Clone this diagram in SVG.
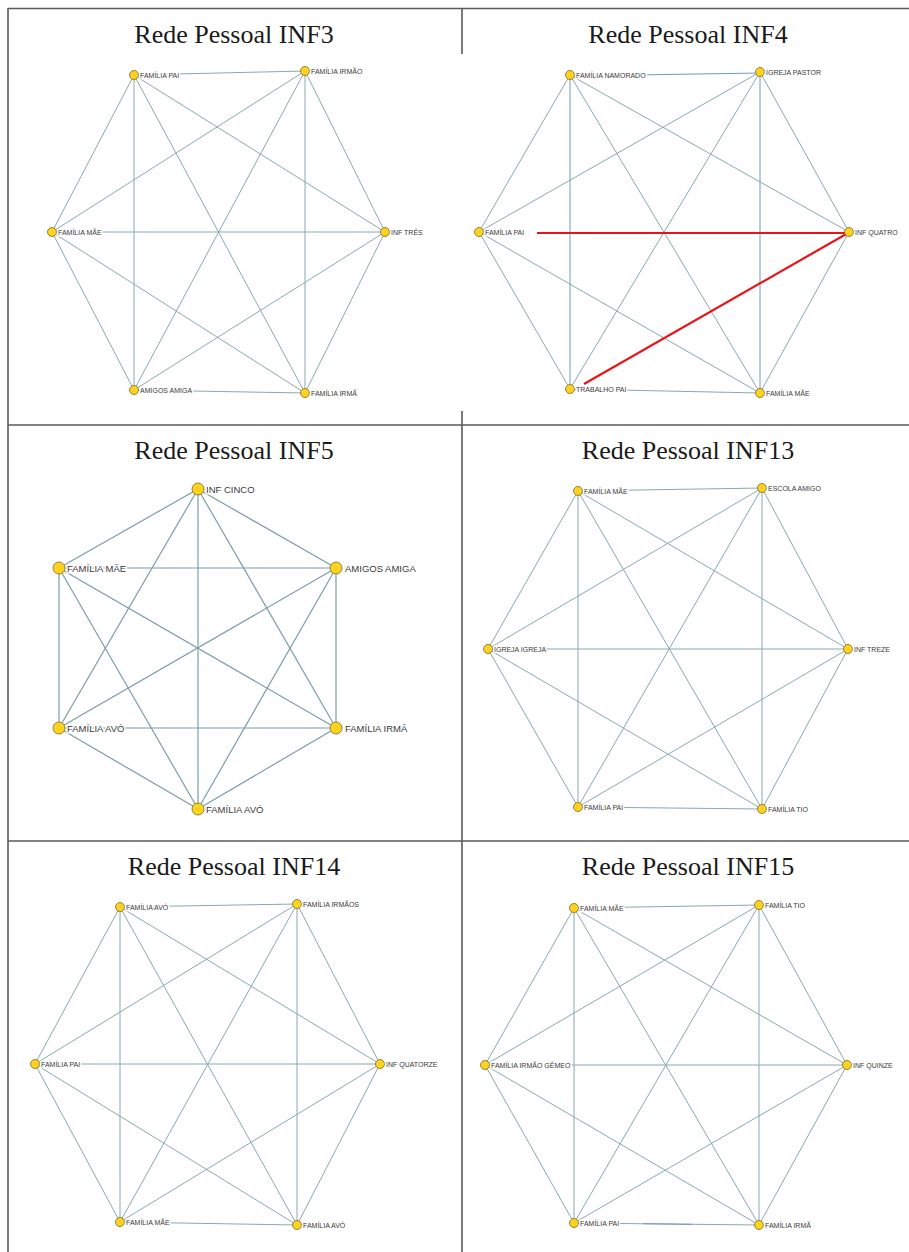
<svg xmlns="http://www.w3.org/2000/svg" width="909" height="1252" viewBox="0 0 909 1252">
<style>
.bg{fill:#ffffff}
.grid{stroke:#5a5a5a;stroke-width:1.6;fill:none}
.title{font-family:"Liberation Serif","Times New Roman",serif;font-size:26px;fill:#1a1a1a;text-anchor:middle}
.e{stroke:#8aa8ae;stroke-width:1}
.e5{stroke:#7c9ea6;stroke-width:1.2}
.eb{stroke:#6f9cc2;stroke-width:1}
.er{stroke:#e8141a;stroke-width:2.2}
.n{fill:#ffd21f;stroke:#7a6a20;stroke-width:0.8}
.lbl{font-family:"Liberation Sans",Arial,sans-serif;font-size:7px;fill:#3a3a3a;paint-order:stroke;stroke:#ffffff;stroke-width:3;stroke-linejoin:round}
.lbl5{font-family:"Liberation Sans",Arial,sans-serif;font-size:9.5px;fill:#3a3a3a;paint-order:stroke;stroke:#ffffff;stroke-width:3;stroke-linejoin:round}
</style>
<rect class="bg" x="0" y="0" width="909" height="1252"/>

<g id="table-grid" class="grid">
<line x1="8" y1="8.5" x2="909" y2="8.5"/>
<line x1="8" y1="8" x2="8" y2="1252"/>
<line x1="8" y1="425" x2="909" y2="425"/>
<line x1="8" y1="841" x2="909" y2="841"/>
<line x1="462" y1="8" x2="462" y2="54"/>
<line x1="462" y1="411" x2="462" y2="1252"/>
</g>

<!-- Panel INF3 -->
<g id="panel-inf3">
<text class="title" x="234" y="43">Rede Pessoal INF3</text>
<g id="inf3-connectors">
<line class="e" x1="134" y1="75" x2="305" y2="71"/>
<line class="e" x1="134" y1="75" x2="385" y2="232"/>
<line class="e" x1="134" y1="75" x2="305" y2="393"/>
<line class="e" x1="134" y1="75" x2="134" y2="390"/>
<line class="e" x1="134" y1="75" x2="52" y2="232"/>
<line class="e" x1="305" y1="71" x2="385" y2="232"/>
<line class="e" x1="305" y1="71" x2="305" y2="393"/>
<line class="e" x1="305" y1="71" x2="134" y2="390"/>
<line class="e" x1="305" y1="71" x2="52" y2="232"/>
<line class="e" x1="385" y1="232" x2="305" y2="393"/>
<line class="e" x1="385" y1="232" x2="134" y2="390"/>
<line class="e" x1="385" y1="232" x2="52" y2="232"/>
<line class="e" x1="305" y1="393" x2="134" y2="390"/>
<line class="e" x1="305" y1="393" x2="52" y2="232"/>
<line class="e" x1="134" y1="390" x2="52" y2="232"/>
</g>
<g id="inf3-familia-pai"><circle class="n" cx="134" cy="75" r="4.5"/><text class="lbl" x="140" y="77.5">FAMÍLIA PAI</text></g>
<g id="inf3-familia-irmao"><circle class="n" cx="305" cy="71" r="4.5"/><text class="lbl" x="311" y="73.5">FAMÍLIA IRMÃO</text></g>
<g id="inf3-inf-tres"><circle class="n" cx="385" cy="232" r="4.5"/><text class="lbl" x="391" y="234.5">INF TRÊS</text></g>
<g id="inf3-familia-irma"><circle class="n" cx="305" cy="393" r="4.5"/><text class="lbl" x="311" y="395.5">FAMÍLIA IRMÃ</text></g>
<g id="inf3-amigos-amiga"><circle class="n" cx="134" cy="390" r="4.5"/><text class="lbl" x="140" y="392.5">AMIGOS AMIGA</text></g>
<g id="inf3-familia-mae"><circle class="n" cx="52" cy="232" r="4.5"/><text class="lbl" x="58" y="234.5">FAMÍLIA MÃE</text></g>
</g>

<!-- Panel INF4 -->
<g id="panel-inf4">
<text class="title" x="688" y="43">Rede Pessoal INF4</text>
<g id="inf4-connectors">
<line class="eb" x1="570" y1="76" x2="760" y2="73"/>
<line class="e" x1="570" y1="75" x2="849" y2="232"/>
<line class="e" x1="570" y1="75" x2="760" y2="393"/>
<line class="eb" x1="570" y1="75" x2="570" y2="389"/>
<line class="e" x1="570" y1="75" x2="479" y2="232"/>
<line class="e" x1="760" y1="72" x2="849" y2="232"/>
<line class="eb" x1="760" y1="72" x2="760" y2="393"/>
<line class="e" x1="760" y1="72" x2="570" y2="389"/>
<line class="e" x1="760" y1="72" x2="479" y2="232"/>
<line class="e" x1="849" y1="232" x2="760" y2="393"/>
<line class="e" x1="760" y1="393" x2="570" y2="389"/>
<line class="e" x1="760" y1="393" x2="479" y2="232"/>
<line class="e" x1="570" y1="389" x2="479" y2="232"/>
<line class="er" x1="537" y1="233" x2="849" y2="233"/>
<line class="er" x1="848" y1="233" x2="584" y2="384"/>
</g>
<g id="inf4-familia-namorado"><circle class="n" cx="570" cy="75" r="4.5"/><text class="lbl" x="576" y="77.5">FAMÍLIA NAMORADO</text></g>
<g id="inf4-igreja-pastor"><circle class="n" cx="760" cy="72" r="4.5"/><text class="lbl" x="766" y="74.5">IGREJA PASTOR</text></g>
<g id="inf4-inf-quatro"><circle class="n" cx="849" cy="232" r="4.5"/><text class="lbl" x="855" y="234.5">INF QUATRO</text></g>
<g id="inf4-familia-mae"><circle class="n" cx="760" cy="393" r="4.5"/><text class="lbl" x="766" y="395.5">FAMÍLIA MÃE</text></g>
<g id="inf4-trabalho-pai"><circle class="n" cx="570" cy="389" r="4.5"/><text class="lbl" x="576" y="391.5">TRABALHO PAI</text></g>
<g id="inf4-familia-pai"><circle class="n" cx="479" cy="232" r="4.5"/><text class="lbl" x="485" y="234.5">FAMÍLIA PAI</text></g>
</g>

<!-- Panel INF5 -->
<g id="panel-inf5">
<text class="title" x="234" y="459">Rede Pessoal INF5</text>
<g id="inf5-connectors">
<line class="e5" x1="198" y1="489" x2="336" y2="568"/>
<line class="e5" x1="198" y1="489" x2="336" y2="728"/>
<line class="e5" x1="198" y1="489" x2="198" y2="809"/>
<line class="e5" x1="198" y1="489" x2="59" y2="728"/>
<line class="e5" x1="198" y1="489" x2="59" y2="568"/>
<line class="e5" x1="336" y1="568" x2="336" y2="728"/>
<line class="e5" x1="336" y1="568" x2="198" y2="809"/>
<line class="e5" x1="336" y1="568" x2="59" y2="728"/>
<line class="e5" x1="336" y1="568" x2="59" y2="568"/>
<line class="e5" x1="336" y1="728" x2="198" y2="809"/>
<line class="e5" x1="336" y1="728" x2="59" y2="728"/>
<line class="e5" x1="336" y1="728" x2="59" y2="568"/>
<line class="e5" x1="198" y1="809" x2="59" y2="728"/>
<line class="e5" x1="198" y1="809" x2="59" y2="568"/>
<line class="e5" x1="59" y1="728" x2="59" y2="568"/>
</g>
<g id="inf5-inf-cinco"><circle class="n" cx="198" cy="489" r="6"/><text class="lbl5" x="206" y="492.5">INF CINCO</text></g>
<g id="inf5-amigos-amiga"><circle class="n" cx="336" cy="568" r="6"/><text class="lbl5" x="345" y="571.5">AMIGOS AMIGA</text></g>
<g id="inf5-familia-irma"><circle class="n" cx="336" cy="728" r="6"/><text class="lbl5" x="345" y="731.5">FAMÍLIA IRMÃ</text></g>
<g id="inf5-familia-avo-bottom"><circle class="n" cx="198" cy="809" r="6"/><text class="lbl5" x="206" y="812.5">FAMÍLIA AVÓ</text></g>
<g id="inf5-familia-avo-left"><circle class="n" cx="59" cy="728" r="6"/><text class="lbl5" x="67" y="731.5">FAMÍLIA AVÓ</text></g>
<g id="inf5-familia-mae"><circle class="n" cx="59" cy="568" r="6"/><text class="lbl5" x="67" y="571.5">FAMÍLIA MÃE</text></g>
</g>

<!-- Panel INF13 -->
<g id="panel-inf13">
<text class="title" x="688" y="459">Rede Pessoal INF13</text>
<g id="inf13-connectors">
<line class="e" x1="578" y1="491" x2="762" y2="488"/>
<line class="e" x1="578" y1="491" x2="848" y2="649"/>
<line class="e" x1="578" y1="491" x2="762" y2="809"/>
<line class="e" x1="578" y1="491" x2="578" y2="807"/>
<line class="e" x1="578" y1="491" x2="488" y2="649"/>
<line class="e" x1="762" y1="488" x2="848" y2="649"/>
<line class="e" x1="762" y1="488" x2="762" y2="809"/>
<line class="e" x1="762" y1="488" x2="578" y2="807"/>
<line class="e" x1="762" y1="488" x2="488" y2="649"/>
<line class="e" x1="848" y1="649" x2="762" y2="809"/>
<line class="e" x1="848" y1="649" x2="578" y2="807"/>
<line class="e" x1="848" y1="649" x2="488" y2="649"/>
<line class="e" x1="762" y1="809" x2="578" y2="807"/>
<line class="e" x1="762" y1="809" x2="488" y2="649"/>
<line class="e" x1="578" y1="807" x2="488" y2="649"/>
</g>
<g id="inf13-familia-mae"><circle class="n" cx="578" cy="491" r="4.5"/><text class="lbl" x="584" y="493.5">FAMÍLIA MÃE</text></g>
<g id="inf13-escola-amigo"><circle class="n" cx="762" cy="488" r="4.5"/><text class="lbl" x="768" y="490.5">ESCOLA AMIGO</text></g>
<g id="inf13-inf-treze"><circle class="n" cx="848" cy="649" r="4.5"/><text class="lbl" x="854" y="651.5">INF TREZE</text></g>
<g id="inf13-familia-tio"><circle class="n" cx="762" cy="809" r="4.5"/><text class="lbl" x="768" y="811.5">FAMÍLIA TIO</text></g>
<g id="inf13-familia-pai"><circle class="n" cx="578" cy="807" r="4.5"/><text class="lbl" x="584" y="809.5">FAMÍLIA PAI</text></g>
<g id="inf13-igreja-igreja"><circle class="n" cx="488" cy="649" r="4.5"/><text class="lbl" x="494" y="651.5">IGREJA IGREJA</text></g>
</g>

<!-- Panel INF14 -->
<g id="panel-inf14">
<text class="title" x="234" y="875">Rede Pessoal INF14</text>
<g id="inf14-connectors">
<line class="e" x1="120" y1="907" x2="297" y2="904"/>
<line class="e" x1="120" y1="907" x2="380" y2="1064"/>
<line class="e" x1="120" y1="907" x2="297" y2="1225"/>
<line class="e" x1="120" y1="907" x2="120" y2="1222"/>
<line class="e" x1="120" y1="907" x2="35" y2="1064"/>
<line class="e" x1="297" y1="904" x2="380" y2="1064"/>
<line class="e" x1="297" y1="904" x2="297" y2="1225"/>
<line class="e" x1="297" y1="904" x2="120" y2="1222"/>
<line class="e" x1="297" y1="904" x2="35" y2="1064"/>
<line class="e" x1="380" y1="1064" x2="297" y2="1225"/>
<line class="e" x1="380" y1="1064" x2="120" y2="1222"/>
<line class="e" x1="380" y1="1064" x2="35" y2="1064"/>
<line class="e" x1="297" y1="1225" x2="120" y2="1222"/>
<line class="e" x1="297" y1="1225" x2="35" y2="1064"/>
<line class="e" x1="120" y1="1222" x2="35" y2="1064"/>
</g>
<g id="inf14-familia-avo-top"><circle class="n" cx="120" cy="907" r="4.5"/><text class="lbl" x="126" y="909.5">FAMÍLIA AVÓ</text></g>
<g id="inf14-familia-irmaos"><circle class="n" cx="297" cy="904" r="4.5"/><text class="lbl" x="303" y="906.5">FAMÍLIA IRMÃOS</text></g>
<g id="inf14-inf-quatorze"><circle class="n" cx="380" cy="1064" r="4.5"/><text class="lbl" x="386" y="1066.5">INF QUATORZE</text></g>
<g id="inf14-familia-avo-bottom"><circle class="n" cx="297" cy="1225" r="4.5"/><text class="lbl" x="303" y="1227.5">FAMÍLIA AVÓ</text></g>
<g id="inf14-familia-mae"><circle class="n" cx="120" cy="1222" r="4.5"/><text class="lbl" x="126" y="1224.5">FAMÍLIA MÃE</text></g>
<g id="inf14-familia-pai"><circle class="n" cx="35" cy="1064" r="4.5"/><text class="lbl" x="41" y="1066.5">FAMÍLIA PAI</text></g>
</g>

<!-- Panel INF15 -->
<g id="panel-inf15">
<text class="title" x="688" y="875">Rede Pessoal INF15</text>
<g id="inf15-connectors">
<line class="e" x1="574" y1="908" x2="759" y2="905"/>
<line class="e" x1="574" y1="908" x2="847" y2="1065"/>
<line class="e" x1="574" y1="908" x2="759" y2="1225"/>
<line class="e" x1="574" y1="908" x2="574" y2="1223"/>
<line class="e" x1="574" y1="908" x2="485" y2="1065"/>
<line class="e" x1="759" y1="905" x2="847" y2="1065"/>
<line class="e" x1="759" y1="905" x2="759" y2="1225"/>
<line class="e" x1="759" y1="905" x2="574" y2="1223"/>
<line class="e" x1="759" y1="905" x2="485" y2="1065"/>
<line class="e" x1="847" y1="1065" x2="759" y2="1225"/>
<line class="e" x1="847" y1="1065" x2="574" y2="1223"/>
<line class="e" x1="847" y1="1065" x2="485" y2="1065"/>
<line class="e" x1="759" y1="1225" x2="574" y2="1223"/>
<line class="eb" x1="643" y1="1223.7" x2="692" y2="1224.3"/>
<line class="e" x1="759" y1="1225" x2="485" y2="1065"/>
<line class="e" x1="574" y1="1223" x2="485" y2="1065"/>
</g>
<g id="inf15-familia-mae"><circle class="n" cx="574" cy="908" r="4.5"/><text class="lbl" x="580" y="910.5">FAMÍLIA MÃE</text></g>
<g id="inf15-familia-tio"><circle class="n" cx="759" cy="905" r="4.5"/><text class="lbl" x="765" y="907.5">FAMÍLIA TIO</text></g>
<g id="inf15-inf-quinze"><circle class="n" cx="847" cy="1065" r="4.5"/><text class="lbl" x="853" y="1067.5">INF QUINZE</text></g>
<g id="inf15-familia-irma"><circle class="n" cx="759" cy="1225" r="4.5"/><text class="lbl" x="765" y="1227.5">FAMÍLIA IRMÃ</text></g>
<g id="inf15-familia-pai"><circle class="n" cx="574" cy="1223" r="4.5"/><text class="lbl" x="580" y="1225.5">FAMÍLIA PAI</text></g>
<g id="inf15-familia-irmao-gemeo"><circle class="n" cx="485" cy="1065" r="4.5"/><text class="lbl" x="491" y="1067.5">FAMÍLIA IRMÃO GÊMEO</text></g>
</g>
</svg>
